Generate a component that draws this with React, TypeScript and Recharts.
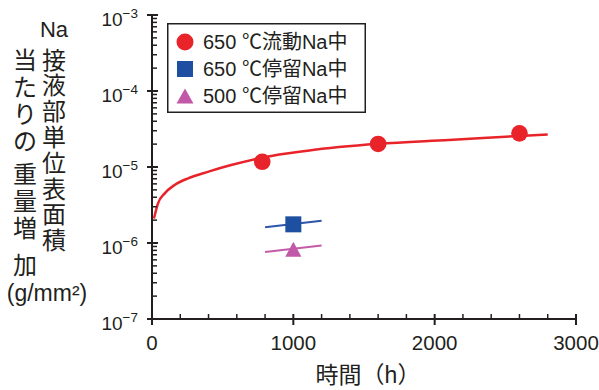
import { ComposedChart, Line, Scatter, XAxis, YAxis, Legend } from 'recharts'

// fitted curve for flowing Na at 650 ℃
const curveHours = [14, 42, 90, 160, 255, 400, 560, 780, 1100, 1600, 2100, 2600, 2800]
const curveGain = [2.1e-6, 3.3e-6, 4.5e-6, 5.8e-6, 7.1e-6, 8.7e-6, 1.06e-5, 1.33e-5, 1.64e-5, 2.02e-5, 2.27e-5, 2.56e-5, 2.68e-5]

const flowHours = [780, 1600, 2600]
const flowGain = [1.17e-5, 2.01e-5, 2.77e-5]

const stag650Hours = [1000]
const stag650Gain = [1.76e-6]
const stag650LineHours = [800, 1200]
const stag650LineGain = [1.61e-6, 1.96e-6]

const stag500Hours = [1000]
const stag500Gain = [8.3e-7]
const stag500LineHours = [800, 1200]
const stag500LineGain = [7.6e-7, 9.3e-7]

const xTicks = [0, 200, 400, 600, 800, 1000, 1200, 1400, 1600, 1800, 2000, 2200, 2400, 2600, 2800, 3000]
const decades = [-7, -6, -5, -4]
const mantissas = [1, 2, 3, 4, 5, 6, 7, 8, 9]
const yTicks = [...decades.flatMap((d) => mantissas.map((m) => m * Math.pow(10, d))), 1e-3]

const legendNames = ['650 ℃流動Na中', '650 ℃停留Na中', '500 ℃停留Na中']
const titleRight = ['接', '液', '部', '単', '位', '表', '面', '積']
const titleLeft = ['当', 'た', 'り', 'の', '重', '量', '増', '加']

const zip = (t: number[], w: number[]) => t.map((h, i) => ({ t: h, w: w[i] }))

const RED = '#e8232a'
const BLUE = '#1f4fa0'
const PINK = '#c259a8'
const INK = '#231f20'
const FONT = '"Liberation Sans", "Noto Sans CJK JP", sans-serif'

const isDecade = (v: number) => Math.abs(Math.log10(v) - Math.round(Math.log10(v))) < 1e-6

const YTick = ({ x, y, payload }: any) => {
  const v = payload.value
  if (!isDecade(v)) {
    return <line x1={x} x2={x + 5} y1={y} y2={y} stroke={INK} strokeWidth={1.5} />
  }
  const exp = Math.round(Math.log10(v))
  return (
    <g>
      <line x1={x - 5} x2={x + 6} y1={y} y2={y} stroke={INK} strokeWidth={2} />
      <text x={x - 14} y={y + 11} textAnchor="end" fill={INK} fontSize={19} fontFamily={FONT}>
        10<tspan fontSize={13.5} dy={-8}>{'\u2212' + Math.abs(exp)}</tspan>
      </text>
    </g>
  )
}

const XTick = ({ x, y, payload }: any) => {
  const v = payload.value
  if (v % 1000 !== 0) {
    return <line x1={x} x2={x} y1={y} y2={y - 5} stroke={INK} strokeWidth={1.5} />
  }
  return (
    <g>
      <line x1={x} x2={x} y1={y - 5} y2={y + 6} stroke={INK} strokeWidth={2} />
      <text x={x} y={y + 31} textAnchor="middle" fill={INK} fontSize={20.5} fontFamily={FONT}>
        {v}
      </text>
    </g>
  )
}

const Dot = ({ cx, cy }: any) => <circle cx={cx} cy={cy} r={8.3} fill={RED} />
const Square = ({ cx, cy }: any) => <rect x={cx - 8} y={cy - 8} width={16} height={16} fill={BLUE} />
const Tri = ({ cx, cy }: any) => (
  <path d={`M${cx},${cy - 7.5} L${cx + 8},${cy + 7.5} L${cx - 8},${cy + 7.5} Z`} fill={PINK} />
)

const LegendBox = () => (
  <svg width={199} height={90} style={{ display: 'block' }}>
    <rect x={0.75} y={0.75} width={197.5} height={88.5} fill="#fff" stroke={INK} strokeWidth={1.5} />
    {legendNames.map((name, i) => {
      const cy = 19 + i * 27
      const cx = 18
      return (
        <g key={name}>
          {i === 0 && <circle cx={cx} cy={cy} r={8.5} fill={RED} />}
          {i === 1 && <rect x={cx - 8} y={cy - 8} width={16} height={16} fill={BLUE} />}
          {i === 2 && <path d={`M${cx},${cy - 7.5} L${cx + 8.5},${cy + 7.5} L${cx - 8.5},${cy + 7.5} Z`} fill={PINK} />}
          <text x={36} y={cy} dominantBaseline="central" fontSize={20} fill={INK} fontFamily={FONT}>
            {name}
          </text>
        </g>
      )
    })}
  </svg>
)

export default function App() {
  return (
    <div style={{ position: 'absolute', left: 0, top: 0, width: 599, height: 390, background: '#fff' }}>
      <ComposedChart width={599} height={390} margin={{ top: 15, right: 23, bottom: 41, left: 92 }}>
        <XAxis
          dataKey="t"
          type="number"
          domain={[0, 3000]}
          ticks={xTicks}
          interval={0}
          height={30}
          tickSize={0}
          tickMargin={0}
          tickLine={false}
          axisLine={{ stroke: INK, strokeWidth: 2 }}
          tick={<XTick />}
          allowDataOverflow
        />
        <YAxis
          dataKey="w"
          type="number"
          scale="log"
          domain={[1e-7, 1e-3]}
          ticks={yTicks}
          interval={0}
          width={60}
          tickSize={0}
          tickMargin={0}
          tickLine={false}
          axisLine={{ stroke: INK, strokeWidth: 2 }}
          tick={<YTick />}
          allowDataOverflow
        />
        <Legend
          layout="vertical"
          align="center"
          verticalAlign="middle"
          wrapperStyle={{ left: 167, top: 23, width: 199, height: 90 }}
          content={() => <LegendBox />}
        />
        <Line data={zip(curveHours, curveGain)} dataKey="w" type="monotone" stroke={RED} strokeWidth={2.5} dot={false} legendType="none" isAnimationActive={false} />
        <Line data={zip(stag650LineHours, stag650LineGain)} dataKey="w" type="linear" stroke="#2b55a8" strokeWidth={2} dot={false} legendType="none" isAnimationActive={false} />
        <Line data={zip(stag500LineHours, stag500LineGain)} dataKey="w" type="linear" stroke="#c55aa9" strokeWidth={2} dot={false} legendType="none" isAnimationActive={false} />
        <Scatter name={legendNames[0]} data={zip(flowHours, flowGain)} dataKey="w" shape={<Dot />} isAnimationActive={false} />
        <Scatter name={legendNames[1]} data={zip(stag650Hours, stag650Gain)} dataKey="w" shape={<Square />} isAnimationActive={false} />
        <Scatter name={legendNames[2]} data={zip(stag500Hours, stag500Gain)} dataKey="w" shape={<Tri />} isAnimationActive={false} />
      </ComposedChart>
      <svg width={599} height={390} style={{ position: 'absolute', left: 0, top: 0, pointerEvents: 'none' }}>
        <g fill={INK} fontFamily={FONT}>
          <text x={54} y={29} textAnchor="middle" dominantBaseline="central" fontSize={22}>Na</text>
          {titleRight.map((c, i) => (
            <text key={'r' + i} x={54} y={60 + i * 25.8} textAnchor="middle" dominantBaseline="central" fontSize={24}>{c}</text>
          ))}
          {titleLeft.map((c, i) => (
            <text key={'l' + i} x={25} y={[60, 87, 114, 141, 174, 201, 228, 265][i]} textAnchor="middle" dominantBaseline="central" fontSize={24}>{c}</text>
          ))}
          <text x={47} y={293} textAnchor="middle" dominantBaseline="central" fontSize={23}>(g/mm²)</text>
          <text x={368} y={375} textAnchor="middle" dominantBaseline="central" fontSize={23}>時間（h）</text>
        </g>
      </svg>
    </div>
  )
}
